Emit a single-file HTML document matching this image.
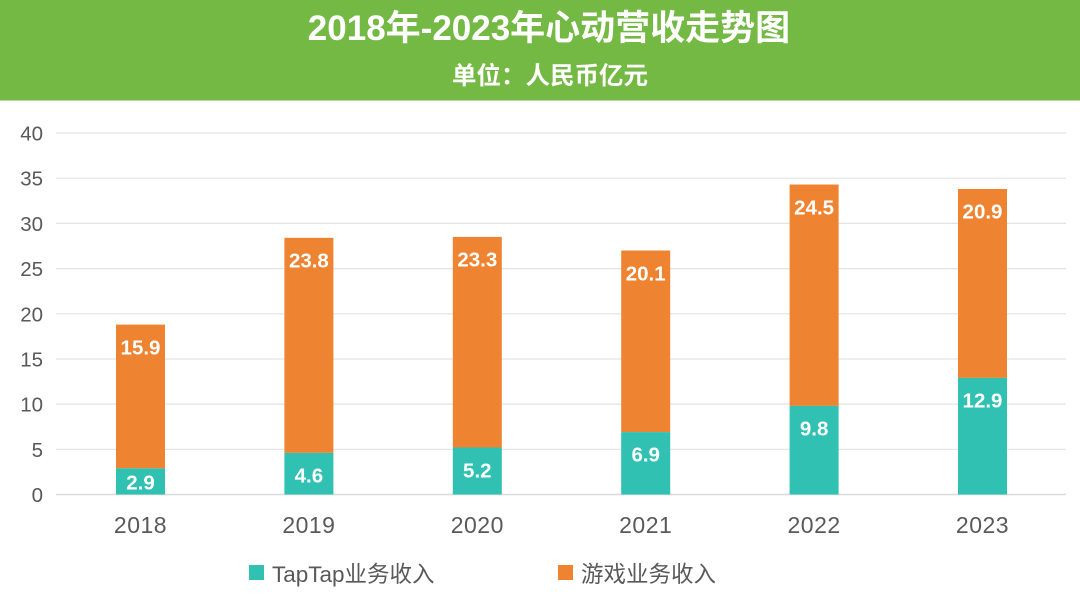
<!DOCTYPE html>
<html>
<head>
<meta charset="utf-8">
<style>
  html,body{margin:0;padding:0;background:#fff;}
  body{width:1080px;height:609px;overflow:hidden;}
  svg{display:block;}
  text{font-family:"Liberation Sans","Noto Sans CJK SC",sans-serif;}
</style>
</head>
<body>
<svg width="1080" height="609" viewBox="0 0 1080 609" xmlns="http://www.w3.org/2000/svg">
  <rect x="0" y="0" width="1080" height="100" fill="#74b943"/>
  <rect x="0" y="100" width="1080" height="1" fill="#b9dca0"/>
  <text x="549" y="40" text-anchor="middle" fill="#fff" font-size="35" font-weight="bold">2018年-2023年心动营收走势图</text>
  <text x="550" y="84" text-anchor="middle" fill="#fff" font-size="24.5" font-weight="bold">单位：人民币亿元</text>

  <!-- gridlines -->
  <g stroke="#e3e3e3" stroke-width="1.2">
    <line x1="56" y1="133" x2="1066" y2="133"/>
    <line x1="56" y1="178.2" x2="1066" y2="178.2"/>
    <line x1="56" y1="223.4" x2="1066" y2="223.4"/>
    <line x1="56" y1="268.6" x2="1066" y2="268.6"/>
    <line x1="56" y1="313.8" x2="1066" y2="313.8"/>
    <line x1="56" y1="359" x2="1066" y2="359"/>
    <line x1="56" y1="404.1" x2="1066" y2="404.1"/>
    <line x1="56" y1="449.3" x2="1066" y2="449.3"/>
  </g>
  <line x1="56" y1="494.5" x2="1066" y2="494.5" stroke="#d9d9d9" stroke-width="1.5"/>

  <!-- y labels -->
  <g fill="#595959" font-size="20.5" text-anchor="end">
    <text x="43" y="140.5">40</text>
    <text x="43" y="185.7">35</text>
    <text x="43" y="230.9">30</text>
    <text x="43" y="276.1">25</text>
    <text x="43" y="321.3">20</text>
    <text x="43" y="366.5">15</text>
    <text x="43" y="411.6">10</text>
    <text x="43" y="456.8">5</text>
    <text x="43" y="502">0</text>
  </g>

  <!-- bars -->
  <g fill="#ee8431">
    <rect x="116" y="324.6" width="49" height="143.7"/>
    <rect x="284.4" y="237.8" width="49" height="215.1"/>
    <rect x="452.8" y="236.9" width="49" height="210.6"/>
    <rect x="621.2" y="250.5" width="49" height="181.6"/>
    <rect x="789.6" y="184.5" width="49" height="221.4"/>
    <rect x="958" y="189" width="49" height="188.9"/>
  </g>
  <g fill="#30c1b2">
    <rect x="116" y="468.3" width="49" height="26.2"/>
    <rect x="284.4" y="452.9" width="49" height="41.6"/>
    <rect x="452.8" y="447.5" width="49" height="47"/>
    <rect x="621.2" y="432.1" width="49" height="62.4"/>
    <rect x="789.6" y="405.9" width="49" height="88.6"/>
    <rect x="958" y="377.9" width="49" height="116.6"/>
  </g>

  <!-- data labels -->
  <g fill="#fff" font-size="20.5" font-weight="bold" text-anchor="middle">
    <text x="140.5" y="354.5">15.9</text>
    <text x="308.9" y="267.5">23.8</text>
    <text x="477.3" y="266.5">23.3</text>
    <text x="645.7" y="280.5">20.1</text>
    <text x="814.1" y="214.5">24.5</text>
    <text x="982.5" y="218.5">20.9</text>
    <text x="140.5" y="489.5">2.9</text>
    <text x="308.9" y="482.5">4.6</text>
    <text x="477.3" y="477.5">5.2</text>
    <text x="645.7" y="461.5">6.9</text>
    <text x="814.1" y="435.5">9.8</text>
    <text x="982.5" y="407.5">12.9</text>
  </g>

  <!-- x labels -->
  <g fill="#595959" font-size="23" text-anchor="middle" letter-spacing="0.5">
    <text x="140.5" y="533">2018</text>
    <text x="308.9" y="533">2019</text>
    <text x="477.3" y="533">2020</text>
    <text x="645.7" y="533">2021</text>
    <text x="814.1" y="533">2022</text>
    <text x="982.5" y="533">2023</text>
  </g>

  <!-- legend -->
  <rect x="249" y="565" width="15" height="15" fill="#30c1b2"/>
  <text x="272" y="582" fill="#595959" font-size="22.5">TapTap业务收入</text>
  <rect x="558" y="565" width="15" height="15" fill="#ee8431"/>
  <text x="581" y="582" fill="#595959" font-size="22.5">游戏业务收入</text>
</svg>
</body>
</html>
